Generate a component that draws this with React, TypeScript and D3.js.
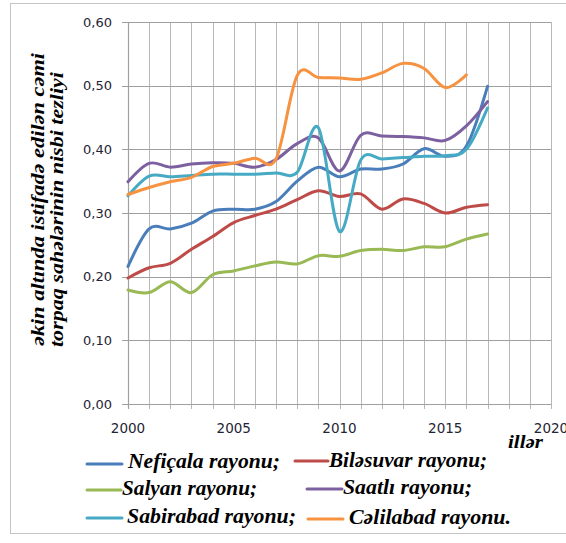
import * as d3 from "d3";
import { useEffect, useRef } from "react";

const years = d3.range(2000, 2018);

const neftcala = [0.216, 0.275, 0.275, 0.284, 0.303, 0.306, 0.306, 0.318, 0.350, 0.372, 0.357, 0.369, 0.369, 0.377, 0.401, 0.389, 0.405, 0.499];
const bilesuvar = [0.198, 0.214, 0.221, 0.243, 0.263, 0.285, 0.296, 0.306, 0.321, 0.335, 0.326, 0.330, 0.306, 0.322, 0.315, 0.300, 0.309, 0.313];
const salyan = [0.179, 0.175, 0.192, 0.175, 0.203, 0.209, 0.217, 0.223, 0.220, 0.233, 0.232, 0.241, 0.243, 0.241, 0.247, 0.247, 0.259, 0.267];
const saatli = [0.349, 0.378, 0.372, 0.377, 0.379, 0.378, 0.372, 0.384, 0.409, 0.418, 0.366, 0.422, 0.421, 0.420, 0.418, 0.414, 0.437, 0.475];
const sabirabad = [0.327, 0.358, 0.357, 0.359, 0.361, 0.361, 0.361, 0.363, 0.364, 0.434, 0.271, 0.383, 0.385, 0.387, 0.389, 0.390, 0.400, 0.465];
const celilabad = [0.329, 0.340, 0.349, 0.356, 0.373, 0.378, 0.386, 0.385, 0.516, 0.513, 0.512, 0.510, 0.520, 0.535, 0.527, 0.497, 0.517];

const seriesNames = [
  "Nefiçala rayonu;",
  "Biləsuvar rayonu;",
  "Salyan rayonu;",
  "Saatlı rayonu;",
  "Sabirabad rayonu;",
  "Cəlilabad rayonu.",
];
const seriesValues = [neftcala, bilesuvar, salyan, saatli, sabirabad, celilabad];
const seriesColours = ["#4A7EBB", "#BE4B48", "#98B954", "#7D60A0", "#46AAC5", "#F69240"];

const yTicks = [0, 0.1, 0.2, 0.3, 0.4, 0.5, 0.6];
const xTicks = [2000, 2005, 2010, 2015, 2020];

const yTitleLines = ["əkin altında istifadə edilən cəmi", "torpaq sahələrinin nisbi tezliyi"];
const xTitle = "illər";

// legend placement: line start/end, line y, text x, baseline, text width
const legendLayout = [
  { x1: 87, x2: 122, ly: 464, tx: 128, ty: 468, w: 152 },
  { x1: 295, x2: 328, ly: 461, tx: 329, ty: 467, w: 158 },
  { x1: 87, x2: 121, ly: 490, tx: 122, ty: 495, w: 135 },
  { x1: 307, x2: 342, ly: 489, tx: 343, ty: 494, w: 129 },
  { x1: 87, x2: 122, ly: 518, tx: 127, ty: 523, w: 169 },
  { x1: 308, x2: 343, ly: 519, tx: 349, ty: 524, w: 162 },
];

const W = 566;
const H = 543;
const serif = "Liberation Serif";

const App = () => {
  const ref = useRef<SVGSVGElement>(null);

  useEffect(() => {
    const svg = d3.select(ref.current);
    svg.selectAll("*").remove();

    svg.append("rect").attr("width", W).attr("height", H).attr("fill", "#fff");
    svg
      .append("rect")
      .attr("x", 10.5)
      .attr("y", 3.5)
      .attr("width", 570)
      .attr("height", 530)
      .attr("fill", "none")
      .attr("stroke", "#c4c4c4");

    const x = d3.scaleLinear().domain([2000, 2020]).range([128, 551]);
    const y = d3.scaleLinear().domain([0, 0.6]).range([404, 22]);

    const grid = svg.append("g");
    grid
      .selectAll("line.v")
      .data(d3.range(2001, 2021))
      .enter()
      .append("line")
      .attr("x1", (d) => Math.round(x(d)) + 0.5)
      .attr("x2", (d) => Math.round(x(d)) + 0.5)
      .attr("y1", y(0.6))
      .attr("y2", y(0) + 5)
      .attr("stroke", "#b8b8b8")
      .attr("stroke-width", 1);

    grid
      .selectAll("line.h")
      .data(yTicks)
      .enter()
      .append("line")
      .attr("x1", x(2000) - 6)
      .attr("x2", x(2020))
      .attr("y1", (d) => Math.round(y(d)) + 0.5)
      .attr("y2", (d) => Math.round(y(d)) + 0.5)
      .attr("stroke", "#a0a0a0")
      .attr("stroke-width", 1.2);

    grid
      .append("line")
      .attr("x1", Math.round(x(2000)) + 0.5)
      .attr("x2", Math.round(x(2000)) + 0.5)
      .attr("y1", y(0.6))
      .attr("y2", y(0) + 5)
      .attr("stroke", "#a0a0a0")
      .attr("stroke-width", 1.2);

    svg
      .append("g")
      .selectAll("text")
      .data(yTicks)
      .enter()
      .append("text")
      .attr("x", x(2000) - 16)
      .attr("y", (d) => y(d) + 4.5)
      .attr("text-anchor", "end")
      .style("font-family", "DejaVu Sans")
      .attr("font-size", 13)
      .attr("fill", "#1f2535")
      .text((d) => d3.format(".2f")(d).replace(".", ","));

    svg
      .append("g")
      .selectAll("text")
      .data(xTicks)
      .enter()
      .append("text")
      .attr("x", (d) => x(d))
      .attr("y", 433)
      .attr("text-anchor", "middle")
      .style("font-family", "DejaVu Sans")
      .attr("font-size", 13.5)
      .attr("fill", "#1f2535")
      .text((d) => String(d));

    const line = d3
      .line<number>()
      .x((_, i) => x(years[i]))
      .y((d) => y(d))
      .curve(d3.curveCardinal.tension(0));

    svg
      .append("g")
      .selectAll("path")
      .data(seriesValues)
      .enter()
      .append("path")
      .attr("d", (d) => line(d))
      .attr("fill", "none")
      .attr("stroke", (_, i) => seriesColours[i])
      .attr("stroke-width", 3)
      .attr("stroke-linejoin", "round")
      .attr("stroke-linecap", "round");

    const yTitle = svg
      .append("g")
      .style("font-family", serif)
      .style("font-weight", "bold")
      .style("font-style", "italic")
      .style("font-size", "19px")
      .attr("fill", "#000");
    yTitle
      .append("text")
      .attr("transform", "translate(44,346) rotate(-90)")
      .attr("textLength", 293)
      .attr("lengthAdjust", "spacingAndGlyphs")
      .text(yTitleLines[0]);
    yTitle
      .append("text")
      .attr("transform", "translate(63,347) rotate(-90)")
      .attr("textLength", 275)
      .attr("lengthAdjust", "spacingAndGlyphs")
      .text(yTitleLines[1]);

    svg
      .append("text")
      .attr("x", 508)
      .attr("y", 448)
      .style("font-family", serif)
      .style("font-weight", "bold")
      .style("font-style", "italic")
      .style("font-size", "19px")
      .attr("textLength", 35)
      .attr("lengthAdjust", "spacingAndGlyphs")
      .text(xTitle);

    const legend = svg.append("g");
    const items = legend
      .selectAll("g")
      .data(seriesNames)
      .enter()
      .append("g");
    items
      .append("line")
      .attr("x1", (_, i) => legendLayout[i].x1)
      .attr("x2", (_, i) => legendLayout[i].x2)
      .attr("y1", (_, i) => legendLayout[i].ly)
      .attr("y2", (_, i) => legendLayout[i].ly)
      .attr("stroke", (_, i) => seriesColours[i])
      .attr("stroke-width", 3)
      .attr("stroke-linecap", "round");
    items
      .append("text")
      .attr("x", (_, i) => legendLayout[i].tx)
      .attr("y", (_, i) => legendLayout[i].ty)
      .attr("textLength", (_, i) => legendLayout[i].w)
      .attr("lengthAdjust", "spacingAndGlyphs")
      .style("font-family", serif)
      .style("font-weight", "bold")
      .style("font-style", "italic")
      .style("font-size", "20px")
      .text((d) => d);
  }, []);

  return (
    <svg
      ref={ref}
      width={W}
      height={H}
      style={{ position: "absolute", left: 0, top: 0, display: "block" }}
    />
  );
};

export default App;
